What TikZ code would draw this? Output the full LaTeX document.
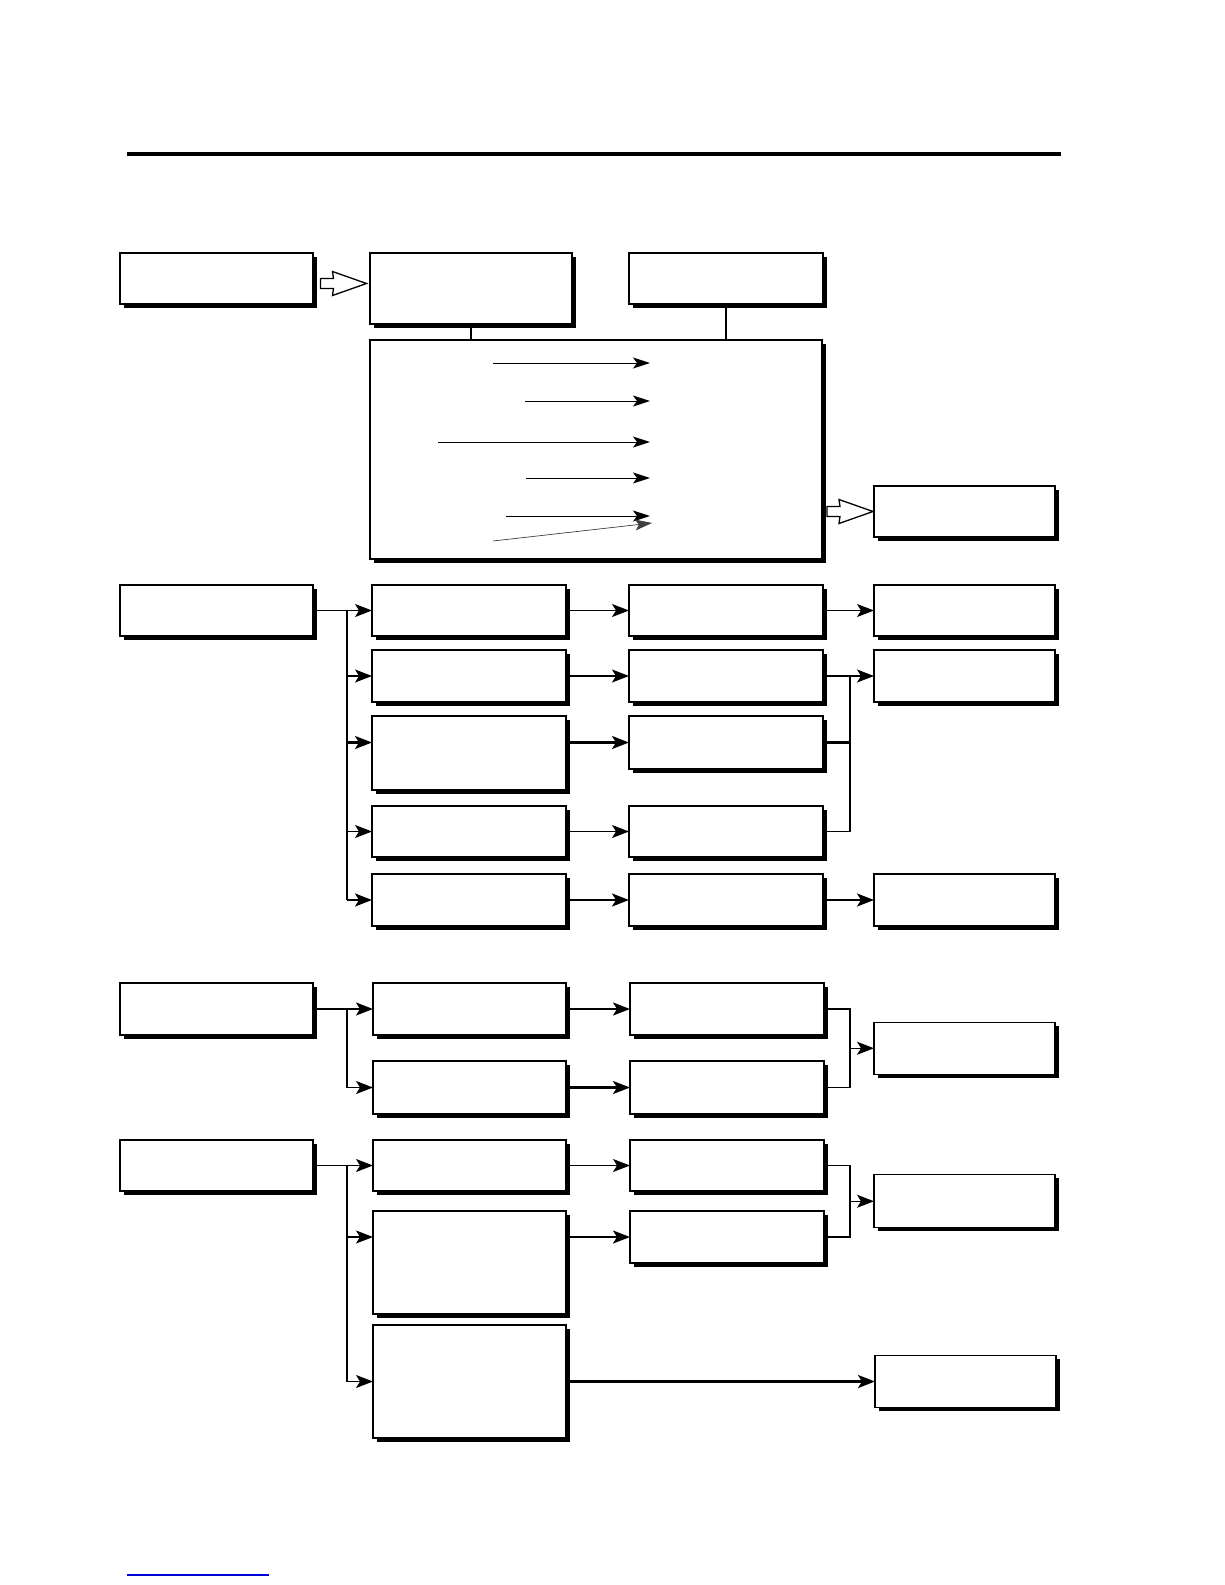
\documentclass[tikz,border=0pt]{standalone}
\usepackage{tikz}
\usetikzlibrary{arrows.meta,positioning,calc,shadows}

\tikzset{
	dims/.style 2 args={minimum width=#1pt,minimum height=#2pt},
	fatarrow/.pic={\draw[line width=1.3pt,fill=white,line join=miter] (-21,-5) -- (-8,-5) -- (-9,-12) -- (25,0) -- (-9,12) -- (-8,5) -- (-21,5) -- cycle;}
}

\begin{document}
\begin{tikzpicture}[x=1pt,y=-1pt,>={Stealth[length=17pt,width=13pt,inset=4pt]},
	panel/.style={draw=black,line width=1.1pt,rectangle,fill=white,inner sep=0pt,outer sep=0pt,anchor=north west,drop shadow={shadow xshift=3.5pt,shadow yshift=-3.5pt,opacity=1,fill=black}},
	link/.style={line width=1.2pt},
	heavy/.style={line width=2.2pt},
	fine/.style={line width=1pt,-{Stealth[length=17pt,width=11pt,inset=4pt]}}]
	\useasboundingbox (0,0) rectangle (1225,1585);
	\draw[line width=4pt] (127,154) -- (1061,154);

	% top part
	\node[panel,dims={193}{51}]								(src)	at (120,253)	{};
	\node[panel,dims={202}{71},right=57pt of src.north east,anchor=north west]	(main)	{};
	\node[panel,dims={194}{51},right=57pt of main.north east,anchor=north west]	(aux)	{};
	\node[panel,dims={452}{219},below=16pt of main.south west,anchor=north west]	(list)	{};
	\node[panel,dims={181}{51}]								(out)	at (874,486)	{};

	\pic at ($(src.east)!0.5!(main.west)$) {fatarrow};
	\pic at ($(list.east |- out.west)!0.5!(out.west)$) {fatarrow};
	\draw[link] (main.south) -- (main.south |- list.north);
	\draw[link] (aux.south) -- (aux.south |- list.north);

	\foreach \n/\xs/\ys in {1/493/363,2/525/401,3/438/442,4/526/478,5/506/516}{
		\coordinate (f\n) at (\xs,\ys);
		\coordinate (g\n) at (650,\ys);
		\draw[fine] (f\n) -- (g\n);
	}
	\coordinate (f6) at (493,541);
	\coordinate (g6) at (652,523);
	\draw[fine,line width=0.7pt,black!75] (f6) -- (g6);

	% second part
	\node[panel,dims={193}{51}]								(h2)	at (120,585)	{};
	\node[panel,dims={194}{51},right=59pt of h2.north east,anchor=north west]	(b21)	{};
	\node[panel,dims={194}{52},below=14pt of b21.south west,anchor=north west]	(b22)	{};
	\node[panel,dims={194}{74},below=14pt of b22.south west,anchor=north west]	(b23)	{};
	\node[panel,dims={194}{51},below=16pt of b23.south west,anchor=north west]	(b24)	{};
	\node[panel,dims={194}{52},below=17pt of b24.south west,anchor=north west]	(b25)	{};
	\node[panel,dims={194}{51},right=63pt of b21.north east,anchor=north west]	(c21)	{};
	\node[panel,dims={194}{52},right=63pt of b22.north east,anchor=north west]	(c22)	{};
	\node[panel,dims={194}{53},right=63pt of b23.north east,anchor=north west]	(c23)	{};
	\node[panel,dims={194}{51},right=63pt of b24.north east,anchor=north west]	(c24)	{};
	\node[panel,dims={194}{52},right=63pt of b25.north east,anchor=north west]	(c25)	{};
	\node[panel,dims={181}{51},right=51pt of c21.north east,anchor=north west]	(d21)	{};
	\node[panel,dims={181}{52},right=51pt of c22.north east,anchor=north west]	(d22)	{};
	\node[panel,dims={181}{52},right=51pt of c25.north east,anchor=north west]	(d25)	{};

	\coordinate (t2) at ($(h2.east)+(34,0)$);
	\coordinate (m2) at ($(c22.east)+(27,0)$);
	\draw[link,->] (h2) -- (b21);
	\draw[heavy] (t2) -- (t2 |- b25.west);
	\draw[link,->] (t2 |- b22.west) -- (b22);
	\draw[heavy,->] (t2 |- c23.west) -- (b23.west |- c23.west);
	\draw[link,->] (t2 |- b24.west) -- (b24);
	\draw[heavy,->] (t2 |- b25.west) -- (b25);
	\draw[link,->] (b21) -- (c21);
	\draw[link,->] (b22) -- (c22);
	\draw[heavy,->] (b23.east |- c23.west) -- (c23);
	\draw[link,->] (b24) -- (c24);
	\draw[heavy,->] (b25) -- (c25);
	\draw[link,->] (c21) -- (d21);
	\draw[link,->] (c22) -- (d22);
	\draw[heavy] (c23.east) -| (m2);
	\draw[link] (c24.east) -| (m2);
	\draw[heavy,->] (c25) -- (d25);

	% third part
	\node[panel,dims={193}{52}]								(h3)	at (120,983)	{};
	\node[panel,dims={193}{52},right=60pt of h3.north east,anchor=north west]	(b31)	{};
	\node[panel,dims={193}{53},below=26pt of b31.south west,anchor=north west]	(b32)	{};
	\node[panel,dims={194}{52},right=64pt of b31.north east,anchor=north west]	(c31)	{};
	\node[panel,dims={194}{53},right=64pt of b32.north east,anchor=north west]	(c32)	{};
	\coordinate (t3) at ($(h3.east)+(34,0)$);
	\coordinate (m3) at ($($(c31.east)!0.5!(c32.east)$)+(26,0)$);
	\node[panel,dims={181}{52},right=24pt of m3,anchor=west]				(d3)	{};

	\draw[heavy,->] (h3) -- (b31);
	\draw[link,->] (t3) |- (b32);
	\draw[heavy,->] (b31) -- (c31);
	\draw[heavy,->] (b32) -- (c32);
	\draw[heavy] (c31.east) -| (m3);
	\draw[link] (c32.east) -| (m3);
	\draw[link,->] (m3) -- (d3);

	% fourth part
	\node[panel,dims={193}{51}]								(h4)	at (120,1140)	{};
	\node[panel,dims={193}{51},right=60pt of h4.north east,anchor=north west]	(b41)	{};
	\node[panel,dims={193}{103},below=20pt of b41.south west,anchor=north west]	(b42)	{};
	\node[panel,dims={193}{113},below=11pt of b42.south west,anchor=north west]	(b43)	{};
	\node[panel,dims={194}{51},right=64pt of b41.north east,anchor=north west]	(c41)	{};
	\node[panel,dims={194}{52},right=64pt of b42.north east,anchor=north west]	(c42)	{};
	\coordinate (t4) at ($(h4.east)+(34,0)$);
	\coordinate (m4) at ($($(c41.east)!0.5!(c42.east)$)+(26,0)$);
	\node[panel,dims={181}{53},right=24pt of m4,anchor=west]				(d4)	{};
	\node[panel,dims={181}{52},right=309pt of b43.east,anchor=west]			(e4)	{};

	\draw[link,->] (h4) -- (b41);
	\draw[link] (t4) -- (t4 |- b43.west);
	\draw[link,->] (t4 |- c42.west) -- (b42.west |- c42.west);
	\draw[link,->] (t4 |- b43.west) -- (b43);
	\draw[link,->] (b41) -- (c41);
	\draw[heavy,->] (b42.east |- c42.west) -- (c42);
	\draw[link] (c41.east) -| (m4);
	\draw[link] (c42.east) -| (m4);
	\draw[link,->] (m4) -- (d4);
	\draw[heavy,->] (b43) -- (e4);

	\draw[blue!85!black,line width=1.2pt] (127,1575) -- (269,1575);
\end{tikzpicture}
\end{document}
